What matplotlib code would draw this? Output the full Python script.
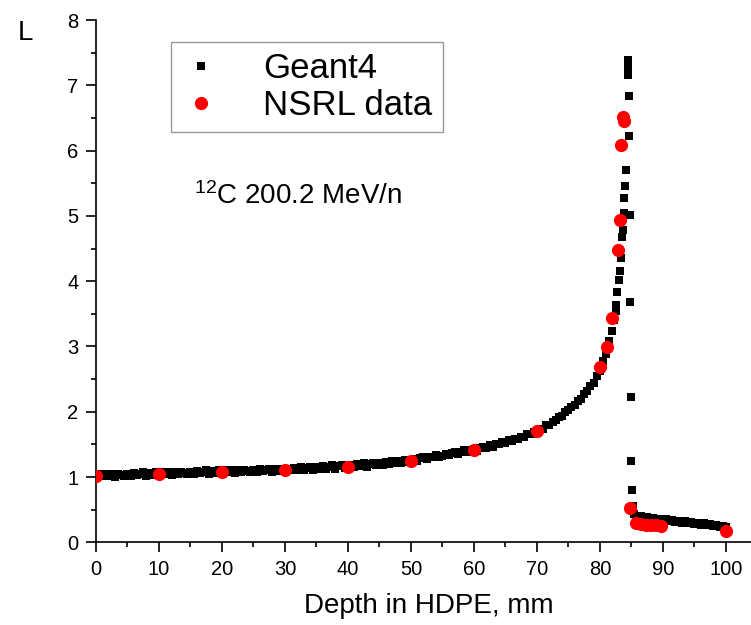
import numpy as np
import matplotlib
matplotlib.use("Agg")
import matplotlib.pyplot as plt

plt.rcParams["font.family"] = ["Liberation Sans", "DejaVu Sans"]
plt.rcParams["mathtext.default"] = "regular"

# Geant4 simulation, regular 0.5 mm grid up to the rising edge
band_depth = np.arange(0, 82.01, 0.5)
band_L = [1.00, 1.05, 1.01, 1.04, 1.02, 1.05, 1.00, 1.04, 1.03, 1.01,
          1.05, 1.01, 1.06, 1.03, 1.04, 1.07, 1.02, 1.06, 1.03, 1.07,
          1.03, 1.07, 1.05, 1.08, 1.03, 1.07, 1.04, 1.08, 1.06, 1.04,
          1.08, 1.04, 1.09, 1.06, 1.07, 1.10, 1.05, 1.09, 1.06, 1.10,
          1.06, 1.10, 1.08, 1.11, 1.06, 1.10, 1.07, 1.11, 1.09, 1.07,
          1.11, 1.07, 1.12, 1.09, 1.10, 1.13, 1.08, 1.12, 1.09, 1.13,
          1.09, 1.13, 1.11, 1.14, 1.10, 1.15, 1.10, 1.14, 1.15, 1.11,
          1.16, 1.12, 1.17, 1.13, 1.15, 1.18, 1.13, 1.17, 1.18, 1.14,
          1.15, 1.19, 1.16, 1.20, 1.17, 1.21, 1.16, 1.20, 1.22, 1.18,
          1.22, 1.18, 1.23, 1.20, 1.24, 1.21, 1.25, 1.21, 1.26, 1.23,
          1.24, 1.28, 1.25, 1.29, 1.30, 1.27, 1.31, 1.30, 1.34, 1.31,
          1.32, 1.36, 1.33, 1.37, 1.38, 1.35, 1.39, 1.41, 1.38, 1.42,
          1.43, 1.40, 1.45, 1.46, 1.44, 1.49, 1.46, 1.51, 1.50, 1.54,
          1.52, 1.56, 1.55, 1.59, 1.59, 1.62, 1.61, 1.66, 1.66, 1.69,
          1.69, 1.73, 1.74, 1.79, 1.80, 1.85, 1.87, 1.92, 1.94, 2.00,
          2.02, 2.08, 2.11, 2.17, 2.20, 2.27, 2.31, 2.39, 2.44, 2.55,
          2.63, 2.77, 2.89, 3.08, 3.24]

# Bragg peak and distal falloff
peak_depth = [82.3, 82.5, 82.6, 82.8, 83.0, 83.2, 83.4, 83.5, 83.6, 83.8,
              83.9, 84.0, 84.1, 84.4, 84.45, 84.5, 84.55, 84.6, 84.7, 84.8,
              84.85, 84.9, 85.0, 85.1, 85.2, 85.3]
peak_L = [3.40, 3.55, 3.64, 3.84, 4.02, 4.16, 4.35, 4.68, 4.79, 5.05,
          5.27, 5.45, 5.70, 7.15, 7.22, 7.30, 7.38, 6.84, 6.22, 5.01,
          3.68, 2.22, 1.24, 0.80, 0.55, 0.48]

# fragment tail
tail_depth = np.arange(85.5, 100.01, 0.5)
tail_L = [0.44, 0.41, 0.40, 0.38, 0.39, 0.36, 0.38, 0.35, 0.36, 0.34,
          0.35, 0.32, 0.34, 0.31, 0.33, 0.30, 0.32, 0.30, 0.31, 0.28,
          0.30, 0.27, 0.29, 0.26, 0.28, 0.25, 0.27, 0.24, 0.25, 0.23]

nsrl_depth = [0, 10, 20, 30, 40, 50, 60, 70, 80, 81.1, 82, 82.9, 83.2,
              83.4, 83.6, 83.8, 84.8, 85.7, 86.5, 87.3, 88.1, 88.9, 89.7, 100]
nsrl_L = [1.01, 1.04, 1.07, 1.11, 1.16, 1.25, 1.41, 1.70, 2.69, 2.99, 3.44,
          4.48, 4.93, 6.08, 6.52, 6.46, 0.52, 0.29, 0.28, 0.27, 0.26, 0.26,
          0.25, 0.18]

geant_depth = np.concatenate([band_depth, peak_depth, tail_depth])
geant_L = np.concatenate([band_L, peak_L, tail_L])

fig = plt.figure(figsize=(7.51, 6.25), dpi=100)
ax = fig.add_axes([0.1278, 0.1323, 0.8722, 0.8357])

ax.plot(geant_depth, geant_L, ls="none", marker="s", ms=5.6, mew=0,
        color="black", label="Geant4", zorder=2)
ax.plot(nsrl_depth, nsrl_L, ls="none", marker="o", ms=9.5, mew=0,
        color="#ff0000", label="NSRL data", zorder=3)

ax.set_xlim(0, 104)
ax.set_ylim(0, 8)
ax.set_xticks(np.arange(0, 101, 10))
ax.set_xticks(np.arange(5, 101, 10), minor=True)
ax.set_yticks(np.arange(0, 9, 1))
ax.set_yticks(np.arange(0.5, 8, 1), minor=True)
for s in ["top", "right"]:
    ax.spines[s].set_visible(False)
for s in ["left", "bottom"]:
    ax.spines[s].set_linewidth(1.2)
ax.tick_params(which="major", direction="out", length=7.5, width=1.2,
               labelsize=14.5, pad=5)
ax.tick_params(which="minor", direction="out", length=3.8, width=1.2)

ax.set_xlabel("Depth in HDPE, mm", fontsize=20)
ax.xaxis.label.set_va("center")
ax.xaxis.set_label_coords(0.508, -0.122)

fig.text(25 / 751, 1 - 33 / 625, "L", fontsize=20, ha="center", va="center")

ax.text(15.6, 5.18, r"$^{12}$C 200.2 MeV/n", fontsize=20, va="baseline")

leg = ax.legend(loc="upper left", bbox_to_anchor=(171 / 751, 1 - 42 / 625),
                bbox_transform=fig.transFigure, fontsize=25, frameon=True,
                fancybox=False, edgecolor="#808080", borderpad=0.3,
                handlelength=1.1, handletextpad=1.25, labelspacing=0.1,
                borderaxespad=0)
leg.get_frame().set_linewidth(1.0)

fig.savefig("out.png", dpi=100)
